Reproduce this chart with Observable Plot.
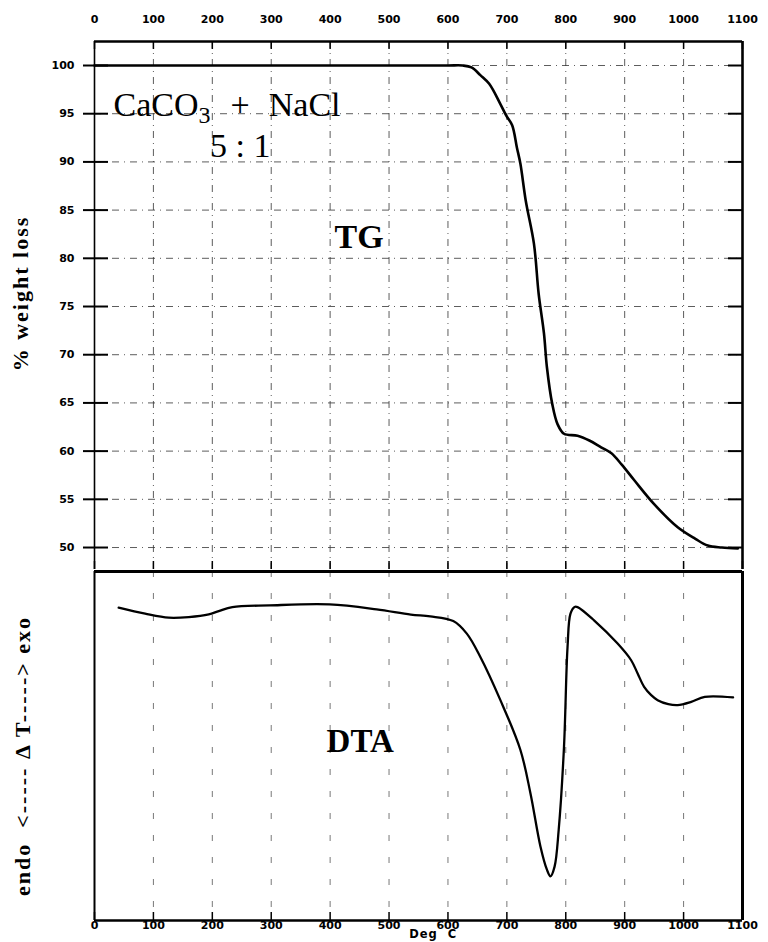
<!DOCTYPE html>
<html><head><meta charset="utf-8">
<script src="https://cdn.jsdelivr.net/npm/d3@7"></script>
<script src="https://cdn.jsdelivr.net/npm/@observablehq/plot@0.6"></script>
<style>
body{margin:0;background:#fff;}
#chart{width:768px;background:#fff;}
#chart svg{display:block;overflow:visible;}
</style></head><body><div id="chart"></div>
<script>
// ---- data ----
const tgTemp   = [0, 100, 200, 300, 400, 500, 600, 625, 640, 655, 670, 689, 699, 709, 717, 723, 732, 746, 754, 763, 768, 777, 786, 797, 820, 840, 860, 877, 895, 916, 950, 990, 1020, 1041, 1065, 1092];
const tgWeight = [100, 100, 100, 100, 100, 100, 100, 100, 99.8, 99.0, 98.1, 96.0, 94.8, 93.8, 91.5, 89.8, 86.0, 81.5, 76.3, 72.2, 68.7, 64.9, 62.8, 61.8, 61.6, 61.1, 60.4, 59.8, 58.6, 57.0, 54.5, 52.1, 50.9, 50.2, 50.0, 49.9];
const dtaTemp   = [41, 86, 126, 160, 194, 211, 234, 297, 399, 479, 537, 570, 609, 632, 655, 689, 723, 740, 757, 768, 774, 781, 788, 797, 803, 808, 815, 820, 848, 888, 911, 922, 933, 945, 956, 974, 990, 1013, 1036, 1084];
const dtaSignal = [9.27, 8.67, 8.27, 8.33, 8.6, 8.93, 9.33, 9.5, 9.6, 9.1, 8.57, 8.4, 7.93, 6.67, 4.33, 0, -5, -9.33, -14.67, -17.0, -17.67, -16.7, -13, -4.67, 5.33, 8.67, 9.35, 9.33, 8, 5.67, 4, 2.67, 1.33, 0.5, 0, -0.4, -0.5, -0.17, 0.33, 0.27];
const xTicks = [0, 100, 200, 300, 400, 500, 600, 700, 800, 900, 1000, 1100];
const yTicks = [50, 55, 60, 65, 70, 75, 80, 85, 90, 95, 100];

const tg  = tgTemp.map((t, i) => ({t, w: tgWeight[i]}));
const dta = dtaTemp.map((t, i) => ({t, v: dtaSignal[i]}));
const xInner = xTicks.filter(t => t > 0 && t < 1100);

const X = [0, 1100];
const YT = [47.72, 102.49];
const YB = [-22.1, 12.9];
const axisFont = {fontFamily: "DejaVu Sans", fontWeight: "bold", fontSize: 11, label: null};
const serif = "Liberation Serif, Times New Roman, serif";

const topPlot = Plot.plot({
  width: 768, height: 569,
  marginLeft: 94, marginRight: 26, marginTop: 41, marginBottom: 0,
  x: {domain: X, axis: null}, y: {domain: YT, axis: null},
  style: {color: "#000", background: "transparent", overflow: "visible"},
  marks: [
    Plot.ruleX(xInner, {stroke: "#333", strokeWidth: 0.8, strokeDasharray: "7,5,1,5"}),
    Plot.ruleY(yTicks, {stroke: "#333", strokeWidth: 0.8, strokeDasharray: "7,5,1,5"}),
    Plot.axisX({ticks: xTicks, anchor: "top", tickSize: 0, tickPadding: 19, tickFormat: d => `${d}`, ...axisFont}),
    Plot.axisY({ticks: yTicks, anchor: "left", tickSize: 0, tickPadding: 20, tickFormat: d => `${d}`, ...axisFont}),
    Plot.ruleY([YT[1]], {strokeWidth: 2.5}),
    Plot.ruleX([0], {strokeWidth: 1.6}),
    Plot.ruleX([1100], {strokeWidth: 2.6}),
    Plot.ruleX(xTicks, {y1: YT[1], y2: YT[1], insetBottom: -8, strokeWidth: 1.5}),
    Plot.ruleX(xTicks, {y1: YT[0], y2: YT[0], insetTop: -8, strokeWidth: 1.5}),
    Plot.ruleY(yTicks, {x1: 0, x2: 0, insetLeft: -11, insetRight: -14, strokeWidth: 2}),
    Plot.ruleY(yTicks, {x1: 1100, x2: 1100, insetLeft: -14, insetRight: 0, strokeWidth: 2}),
    Plot.line(tg, {x: "t", y: "w", curve: "catmull-rom", strokeWidth: 2.6, stroke: "#000"}),
    Plot.text(["CaCO3 + NaCl"], {text: d => d, x: 32.4, y: 94.8, textAnchor: "start", lineAnchor: "bottom", fontFamily: serif, fontSize: 34}),
    Plot.text(["5 : 1"], {text: d => d, x: 196, y: 90.46, textAnchor: "start", lineAnchor: "bottom", fontFamily: serif, fontSize: 34}),
    Plot.text(["TG"], {text: d => d, x: 407.6, y: 81.12, textAnchor: "start", lineAnchor: "bottom", fontFamily: serif, fontSize: 34, fontWeight: "bold"}),
    Plot.text(["% weight loss"], {text: d => d, frameAnchor: "left", dx: -74, y: 76.35, rotate: -90, textAnchor: "middle", lineAnchor: "middle", fontFamily: serif, fontSize: 22, fontWeight: "bold"})
  ]
});

const bottomPlot = Plot.plot({
  width: 768, height: 373,
  marginLeft: 94, marginRight: 26, marginTop: 2, marginBottom: 22,
  x: {domain: X, axis: null}, y: {domain: YB, axis: null},
  style: {color: "#000", background: "transparent", overflow: "visible"},
  marks: [
    Plot.ruleX(xInner, {stroke: "#555", strokeWidth: 0.8, strokeDasharray: "6,16"}),
    Plot.axisX({ticks: xTicks, anchor: "bottom", tickSize: 0, tickPadding: 1, tickFormat: d => `${d}`, ...axisFont}),
    Plot.ruleY([YB[1]], {strokeWidth: 3}),
    Plot.ruleY([YB[0]], {strokeWidth: 2.5}),
    Plot.ruleX([0], {strokeWidth: 2}),
    Plot.ruleX([1100], {strokeWidth: 3}),
    Plot.ruleX(xTicks, {y1: YB[0], y2: YB[0], insetTop: -8, strokeWidth: 1.5}),
    Plot.line(dta, {x: "t", y: "v", curve: "catmull-rom", strokeWidth: 2.3, stroke: "#000"}),
    Plot.text(["DTA"], {text: d => d, x: 394, y: -5.2, textAnchor: "start", lineAnchor: "bottom", fontFamily: serif, fontSize: 33, fontWeight: "bold"}),
    Plot.text(["endo  <----- Δ T-----> exo"], {text: d => d, frameAnchor: "left", dx: -72, y: -5.6, rotate: -90, textAnchor: "middle", lineAnchor: "middle", fontFamily: serif, fontSize: 22, fontWeight: "bold"}),
    Plot.text(["Deg  C"], {text: d => d, x: 575, frameAnchor: "bottom", dy: 14, lineAnchor: "middle", fontFamily: "DejaVu Sans", fontSize: 11.5, fontWeight: "bold"})
  ]
});

const root = document.getElementById("chart");
root.appendChild(topPlot);
root.appendChild(bottomPlot);

// typographic touches
const NS = "http://www.w3.org/2000/svg";
root.querySelectorAll("text").forEach(el => {
  const s = el.textContent;
  if (s === "CaCO3 + NaCl") {
    el.textContent = "";
    const parts = [["CaCO", {}], ["3", {"font-size": 24, dy: 7}], ["+", {dx: 20, dy: -7}], ["NaCl", {dx: 19}]];
    for (const [txt, attrs] of parts) {
      const ts = document.createElementNS(NS, "tspan");
      for (const k in attrs) ts.setAttribute(k, attrs[k]);
      ts.textContent = txt;
      el.appendChild(ts);
    }
  } else if (s === "% weight loss" || s.startsWith("endo")) {
    el.style.letterSpacing = "2px";
  } else if (s === "Deg  C") {
    el.style.letterSpacing = "1px";
  }
});
</script></body></html>
